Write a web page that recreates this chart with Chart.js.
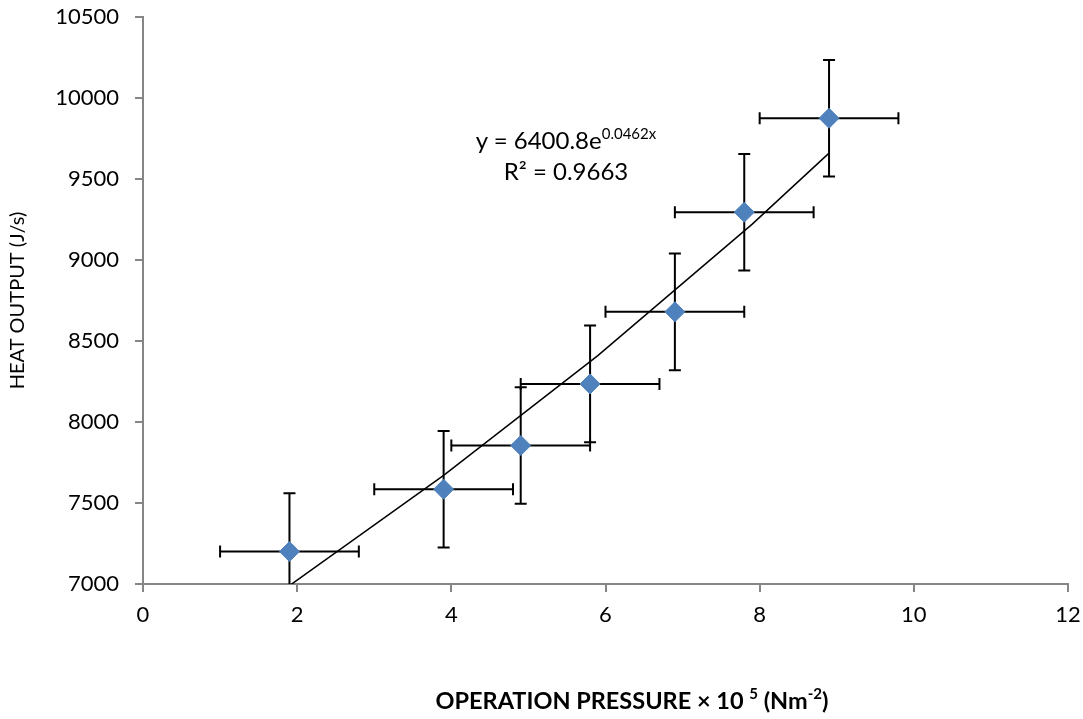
<!DOCTYPE html>
<html>
<head>
<meta charset="utf-8">
<script src="https://cdn.jsdelivr.net/npm/chart.js@4.4.0/dist/chart.umd.min.js"></script>
<style>
    body { margin: 0; background: #fff; }
    #wrap { position: relative; width: 1083px; height: 719px; font-family: Lato, sans-serif; color: #000; }
    #chart { position: absolute; left: 0; top: 0; }
    #eq { position: absolute; left: 566px; top: 124px; transform: translateX(-50%); text-align: center; font-size: 24px; line-height: 31px; white-space: nowrap; }
    #eq sup { font-size: 15px; vertical-align: 10px; line-height: 0; }
    #xtitle { position: absolute; left: 632px; top: 686px; transform: translateX(-50%); font-size: 23.5px; font-weight: bold; white-space: nowrap; }
    #xtitle sup { font-size: 15px; vertical-align: 10px; line-height: 0; }
</style>
</head>
<body>
<div id="wrap">
    <canvas id="chart" width="1083" height="719"></canvas>
    <div id="eq">y = 6400.8e<sup>0.0462x</sup><br>R² = 0.9663</div>
    <div id="xtitle">OPERATION PRESSURE × 10 <sup>5</sup> (Nm<sup>-2</sup>)</div>
</div>
<script>
// measured points
const pressure = [1.9, 3.9, 4.9, 5.8, 6.9, 7.8, 8.9];
const heatOutput = [7200, 7585, 7855, 8235, 8680, 9295, 9875];
const pressureErr = [0.9, 0.9, 0.9, 0.9, 0.9, 0.9, 0.9];
const heatErr = [360, 360, 360, 360, 360, 360, 360];

// exponential trendline
const trendPressure = [1.9, 3.9, 5.9, 7.9, 8.9];
const trendHeat = [6990, 7670, 8410, 9220, 9660];

const axisGrey = '#868686';

// x and y error bars, drawn under the markers
const errorBars = {
    id: 'errorBars',
    beforeDatasetsDraw(chart) {
        const {ctx, chartArea, scales: {x, y}} = chart;
        ctx.save();
        ctx.beginPath();
        ctx.rect(chartArea.left, chartArea.top, chartArea.width, chartArea.height);
        ctx.clip();
        ctx.strokeStyle = '#000';
        ctx.lineWidth = 2;
        const cap = 6;
        pressure.forEach((p, i) => {
            const px = x.getPixelForValue(p);
            const py = y.getPixelForValue(heatOutput[i]);
            const xl = x.getPixelForValue(p - pressureErr[i]);
            const xr = x.getPixelForValue(p + pressureErr[i]);
            const yt = y.getPixelForValue(heatOutput[i] + heatErr[i]);
            const yb = y.getPixelForValue(heatOutput[i] - heatErr[i]);
            ctx.beginPath();
            ctx.moveTo(xl, py); ctx.lineTo(xr, py);
            ctx.moveTo(xl, py - cap); ctx.lineTo(xl, py + cap);
            ctx.moveTo(xr, py - cap); ctx.lineTo(xr, py + cap);
            ctx.moveTo(px, yt); ctx.lineTo(px, yb);
            ctx.moveTo(px - cap, yt); ctx.lineTo(px + cap, yt);
            ctx.moveTo(px - cap, yb); ctx.lineTo(px + cap, yb);
            ctx.stroke();
        });
        ctx.restore();
    }
};

const ctx = document.getElementById('chart').getContext('2d');
new Chart(ctx, {
    type: 'scatter',
    data: {
        datasets: [{
            label: 'Heat output',
            data: pressure.map((p, i) => ({x: p, y: heatOutput[i]})),
            pointStyle: 'rectRot',
            pointRadius: 10,
            backgroundColor: '#4F81BD',
            borderColor: '#4F81BD',
            borderWidth: 1,
        }, {
            label: 'Trend',
            type: 'line',
            data: trendPressure.map((p, i) => ({x: p, y: trendHeat[i]})),
            borderColor: '#000',
            borderWidth: 1.5,
            pointRadius: 0,
            fill: false,
            tension: 0,
        }]
    },
    options: {
        responsive: false,
        animation: false,
        devicePixelRatio: 1,
        layout: {
            padding: {left: 0, top: 17, right: 15, bottom: 0}
        },
        plugins: {
            legend: {display: false},
            tooltip: {enabled: false},
        },
        scales: {
            x: {
                type: 'linear',
                min: 0,
                max: 12,
                ticks: {stepSize: 2, color: '#000', font: {family: 'Lato', size: 22}, padding: 10},
                grid: {drawOnChartArea: false, color: axisGrey, lineWidth: 2, tickLength: 8},
                border: {color: axisGrey, width: 2},
                afterFit: (scale) => {
                    scale.height = 135;
                    scale.paddingLeft = 0;
                    scale.paddingRight = 0;
                },
            },
            y: {
                min: 7000,
                max: 10500,
                ticks: {
                    stepSize: 500,
                    color: '#000',
                    font: {family: 'Lato', size: 22},
                    padding: 16,
                    callback: (v) => String(v),
                },
                grid: {drawOnChartArea: false, color: axisGrey, lineWidth: 2, tickLength: 8},
                border: {color: axisGrey, width: 2},
                title: {
                    display: true,
                    text: 'HEAT OUTPUT (J/s)',
                    color: '#000',
                    font: {family: 'Lato', size: 20},
                    padding: {top: 6, bottom: 0},
                },
                afterFit: (scale) => {
                    scale.width = 143;
                    scale.paddingTop = 0;
                    scale.paddingBottom = 0;
                },
            }
        }
    },
    plugins: [errorBars]
});
</script>
</body>
</html>
